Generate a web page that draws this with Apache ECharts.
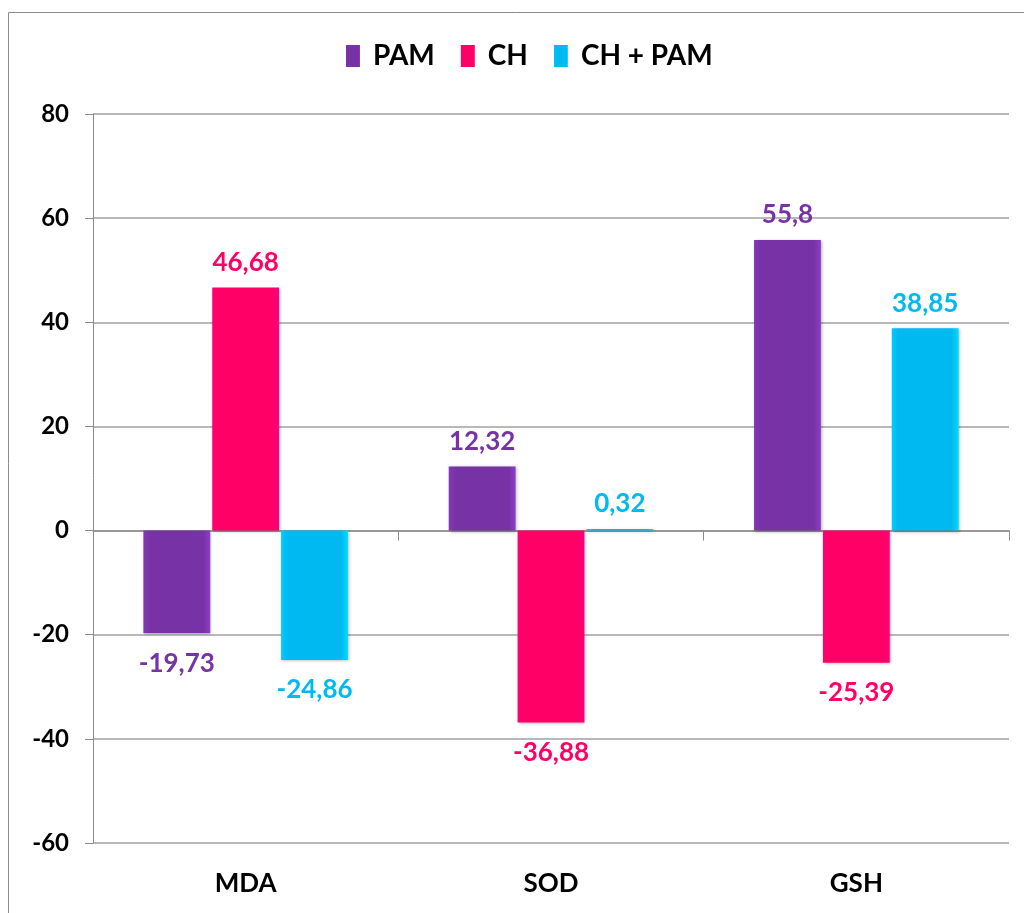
<!DOCTYPE html>
<html><head><meta charset="utf-8">
<script src="https://cdn.jsdelivr.net/npm/echarts@6/dist/echarts.min.js"></script>
<style>html,body{margin:0;padding:0;background:#fff}#c{width:1024px;height:913px}</style>
</head><body><div id="c"></div>
<script>
const categories = ['MDA', 'SOD', 'GSH'];
const seriesNames = ['PAM', 'CH', 'CH + PAM'];
const pam = [-19.73, 12.32, 55.8];
const ch = [46.68, -36.88, -25.39];
const chPam = [-24.86, 0.32, 38.85];
const colors = ['#7733A6', '#FF0066', '#00B9F1'];

const chart = echarts.init(document.getElementById('c'));
const font = 'Lato, "Open Sans", sans-serif';
function fmt(v){ return String(v.value).replace('.', ','); }
function mk(name, data, color){
  return {
    name, type: 'bar', xAxisIndex: 0,
    barGap: '3%', barCategoryGap: '33%',
    data: data.map(v => ({value: v, label: {position: v >= 0 ? 'top' : 'bottom', distance: v >= 0 ? 12 : 17}})),
    itemStyle: {
      color: new echarts.graphic.LinearGradient(0,0,1,0,[
        {offset:0, color: echarts.color.lift(color, -0.1)},
        {offset:0.1, color: color},
        {offset:0.9, color: color},
        {offset:1, color: echarts.color.lift(color, -0.2)}
      ]),
      shadowColor: 'rgba(0,0,0,0.3)', shadowBlur: 3, shadowOffsetX: 1, shadowOffsetY: 1
    },
    label: {
      show: true, formatter: fmt, color: color, fontFamily: font, fontWeight: 'bold', fontSize: 26
    }
  };
}
const series = [mk(seriesNames[0], pam, colors[0]), mk(seriesNames[1], ch, colors[1]), mk(seriesNames[2], chPam, colors[2])];
chart.setOption({
  animation: false,
  color: colors,
  graphic: [{type:'rect', shape:{x:8.5, y:12.5, width:1030, height:920}, style:{fill:'none', stroke:'#8c8c8c', lineWidth:1}, z:-1}],
  legend: {
    data: seriesNames, top: 37, left: 341, itemWidth: 14, itemHeight: 22, itemGap: 26,
    icon: 'rect',
    textStyle: {fontFamily: font, fontWeight: 'bold', fontSize: 28, color: '#000', padding: [0, 0, 0, 8]}
  },
  grid: {left: 93, right: 15, top: 114, bottom: 70},
  xAxis: [{
    type: 'category', data: categories, position: 'bottom',
    axisLine: {show: false, onZero: false}, axisTick: {show: false},
    axisLabel: {fontFamily: font, fontWeight: 'bold', fontSize: 26, color: '#000', margin: 28}
  },{
    type: 'category', data: categories, position: 'top',
    axisLine: {show: true, onZero: true, lineStyle: {color: '#8c8c8c', width: 1.5}},
    axisTick: {show: true, inside: true, length: 10, lineStyle: {color: '#8c8c8c'}},
    axisLabel: {show: false}
  }],
  yAxis: {
    type: 'value', min: -60, max: 80, interval: 20,
    axisLine: {show: true, lineStyle: {color: '#8c8c8c'}},
    axisTick: {show: true, length: 8, lineStyle: {color: '#8c8c8c'}},
    splitLine: {lineStyle: {color: '#a0a0a0', width: 1.5}},
    axisLabel: {fontFamily: font, fontWeight: 'bold', fontSize: 24, color: '#000', margin: 24}
  },
  series
});
</script></body></html>
